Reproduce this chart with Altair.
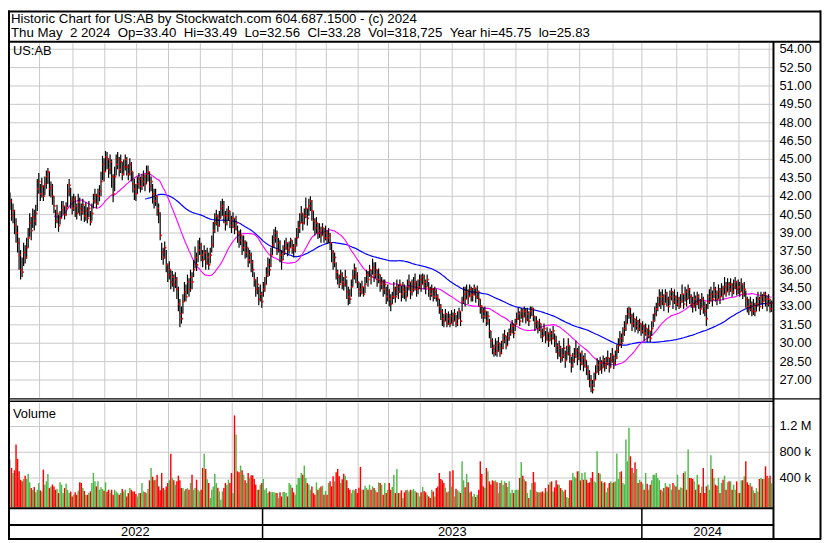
import altair as alt
import pandas as pd

# ---------------- data ----------------
hi = [
    42.3, 41.8, 41.4, 40.9, 40.2, 39.6, 38.6, 37.6, 37.0, 38.2,
    38.0, 38.6, 39.4, 40.6, 40.3, 41.0, 40.9, 41.3, 43.4, 43.9,
    43.0, 43.5, 42.9, 43.6, 44.1, 44.3, 44.0, 43.2, 43.0, 42.0,
    40.9, 41.3, 40.5, 40.8, 41.6, 41.6, 41.2, 41.5, 43.0, 43.4,
    42.7, 42.0, 42.2, 42.0, 41.4, 42.2, 41.9, 41.4, 41.8, 41.2,
    41.5, 41.1, 41.6, 40.8, 41.4, 42.2, 42.6, 42.2, 42.6, 42.9,
    44.0, 45.3, 45.1, 45.7, 45.6, 45.1, 45.4, 45.0, 43.8, 44.4,
    45.4, 45.6, 45.2, 45.4, 44.8, 45.0, 45.4, 45.2, 44.6, 45.1,
    44.8, 44.0, 43.4, 43.0, 43.6, 43.9, 43.6, 43.8, 44.1, 43.8,
    44.5, 44.5, 44.0, 43.6, 43.0, 42.6, 42.6, 42.0, 41.4, 40.7,
    38.2, 37.8, 38.3, 37.6, 36.5, 36.7, 36.0, 35.9, 35.6, 35.8,
    35.4, 34.6, 33.6, 33.0, 34.0, 35.0, 34.8, 35.6, 35.3, 36.0,
    35.8, 36.8, 37.9, 37.4, 38.4, 38.6, 38.2, 37.6, 38.0, 37.6,
    37.8, 37.4, 37.8, 38.8, 39.9, 40.6, 40.9, 40.5, 40.8, 41.6,
    41.8, 41.6, 40.8, 41.0, 41.2, 40.8, 40.4, 40.7, 40.2, 40.4,
    39.6, 39.2, 39.3, 38.8, 38.8, 38.4, 38.3, 37.8, 37.6, 37.4,
    36.8, 35.8, 35.2, 35.4, 34.6, 34.8, 34.2, 35.0, 35.4, 36.2,
    37.0, 36.9, 37.8, 38.8, 39.3, 39.5, 39.2, 38.6, 38.4, 37.6,
    38.0, 38.4, 38.6, 38.2, 38.3, 38.6, 38.4, 38.1, 38.6, 39.4,
    40.0, 40.6, 41.2, 40.6, 41.0, 41.9, 41.0, 41.8, 42.0, 41.7,
    40.8, 40.2, 40.3, 39.8, 39.8, 39.5, 39.8, 39.4, 39.6, 39.2,
    39.4, 39.0, 38.2, 37.6, 37.4, 36.6, 36.0, 35.6, 36.0, 35.8,
    35.4, 36.0, 35.2, 34.6, 34.4, 35.2, 36.0, 36.5, 36.2, 35.8,
    35.0, 34.9, 35.1, 34.6, 35.4, 36.0, 35.9, 36.4, 36.0, 36.9,
    36.6, 36.6, 36.0, 36.1, 35.6, 35.4, 35.2, 35.2, 34.6, 34.8,
    34.4, 34.0, 34.2, 35.0, 34.6, 35.2, 34.8, 35.2, 34.7, 35.0,
    34.8, 34.6, 35.2, 35.6, 35.0, 35.2, 35.4, 35.7, 35.1, 35.2,
    35.6, 35.6, 35.7, 35.6, 35.2, 35.6, 35.0, 34.6, 34.8, 34.5,
    34.6, 34.4, 34.0, 33.6, 33.2, 32.8, 32.4, 32.8, 32.4, 32.6,
    32.4, 32.7, 32.5, 32.8, 32.3, 32.6, 32.9, 32.6, 33.8, 34.6,
    34.6, 34.8, 34.4, 34.8, 34.6, 34.5, 34.8, 34.5, 34.7, 34.3,
    33.6, 33.1, 32.9, 33.0, 32.6, 32.6, 32.0, 31.0, 30.4, 29.9,
    30.4, 30.2, 30.5, 30.0, 30.2, 30.8, 31.1, 30.6, 30.9, 31.2,
    31.6, 31.9, 31.6, 32.0, 32.5, 32.9, 32.6, 32.9, 32.8, 33.0,
    32.8, 32.9, 32.6, 33.0, 33.0, 32.9, 32.2, 32.2, 31.8, 32.0,
    31.6, 31.2, 31.6, 31.0, 31.3, 30.9, 31.2, 31.0, 31.4, 30.8,
    30.6, 30.0, 30.2, 29.8, 29.6, 30.4, 29.4, 29.8, 30.4, 29.8,
    28.9, 29.2, 29.6, 30.2, 29.6, 29.8, 29.2, 29.4, 29.0, 29.2,
    28.6, 28.2, 27.8, 27.4, 27.0, 27.6, 28.2, 28.8, 28.6, 28.9,
    28.6, 29.0, 28.8, 28.9, 29.4, 28.8, 29.2, 29.6, 29.0, 29.4,
    29.9, 30.4, 31.0, 30.8, 31.3, 31.8, 32.3, 32.9, 33.0, 32.9,
    32.4, 32.5, 32.0, 32.2, 31.9, 32.0, 31.6, 31.8, 31.5, 31.6,
    31.2, 31.5, 31.0, 31.8, 32.4, 33.0, 33.3, 33.8, 34.4, 34.2,
    34.4, 34.0, 34.4, 34.2, 33.8, 34.3, 34.5, 34.2, 34.4, 33.9,
    34.2, 33.8, 34.0, 34.8, 34.0, 34.6, 34.4, 34.8, 34.5, 34.0,
    33.8, 34.2, 33.9, 34.2, 34.0, 33.6, 34.1, 33.8, 33.4, 33.2,
    34.0, 34.4, 34.6, 34.3, 35.0, 34.6, 34.3, 34.8, 34.5, 34.9,
    34.7, 35.4, 35.0, 35.3, 35.0, 35.3, 34.9, 35.2, 35.4, 35.1,
    35.2, 35.0, 35.3, 34.9, 35.0, 34.3, 33.8, 33.6, 33.8, 33.4,
    33.6, 33.3, 33.8, 34.2, 33.8, 34.2, 34.0, 34.2, 34.2, 33.9,
    34.0, 33.6, 33.49,
]
lo = [
    40.9, 40.0, 39.8, 38.9, 38.2, 37.4, 36.0, 35.2, 35.4, 36.3,
    36.5, 36.9, 37.8, 38.7, 38.4, 39.4, 39.2, 39.6, 40.8, 42.2,
    41.6, 41.9, 41.6, 42.1, 42.6, 43.0, 42.0, 41.9, 41.3, 40.6,
    39.4, 39.8, 39.1, 39.7, 40.2, 40.5, 40.1, 40.4, 41.1, 42.0,
    41.0, 40.5, 40.8, 40.3, 40.1, 40.6, 40.4, 40.0, 40.5, 39.9,
    40.0, 39.8, 40.3, 39.6, 40.0, 41.0, 41.4, 41.0, 41.3, 41.6,
    42.0, 43.3, 43.2, 44.0, 44.2, 43.5, 43.8, 42.7, 41.5, 42.4,
    43.7, 44.2, 43.6, 43.9, 43.3, 43.7, 44.1, 43.7, 43.3, 43.7,
    43.2, 42.3, 41.7, 41.6, 42.2, 42.6, 42.3, 42.5, 42.8, 42.4,
    43.0, 43.2, 42.3, 42.4, 41.4, 41.0, 41.2, 40.4, 39.8, 38.4,
    36.8, 36.4, 36.9, 35.8, 35.0, 35.2, 34.4, 34.6, 34.2, 34.5,
    33.6, 32.6, 31.3, 31.6, 32.4, 33.4, 33.4, 34.0, 33.8, 34.2,
    34.4, 35.4, 36.1, 35.9, 36.6, 37.2, 36.7, 36.2, 36.8, 36.0,
    36.4, 36.0, 36.5, 37.4, 37.8, 39.0, 39.6, 39.1, 39.5, 40.2,
    40.4, 39.8, 39.2, 39.6, 40.0, 39.4, 39.0, 39.4, 38.9, 39.2,
    38.2, 37.8, 38.0, 37.2, 37.5, 36.9, 37.0, 36.2, 36.5, 35.8,
    35.4, 34.6, 33.8, 34.0, 33.1, 33.4, 32.9, 33.8, 34.2, 34.8,
    35.4, 35.5, 36.2, 37.2, 37.8, 38.2, 37.2, 37.4, 36.6, 36.0,
    36.8, 37.2, 37.6, 37.1, 37.3, 37.8, 37.3, 37.0, 37.4, 37.9,
    38.6, 39.0, 39.8, 39.2, 39.7, 40.2, 39.6, 40.4, 40.8, 40.0,
    39.2, 38.8, 39.0, 38.5, 38.6, 38.2, 38.8, 38.2, 38.4, 38.1,
    38.2, 37.6, 36.6, 36.0, 36.2, 35.2, 34.8, 34.5, 34.9, 34.4,
    34.3, 34.6, 33.6, 33.1, 33.2, 33.8, 34.6, 35.2, 34.9, 34.5,
    33.8, 33.8, 34.0, 33.8, 34.1, 34.9, 34.6, 35.4, 34.8, 35.6,
    35.0, 35.3, 34.6, 34.9, 34.2, 34.4, 33.8, 34.0, 33.2, 33.4,
    33.0, 32.6, 33.2, 33.6, 33.3, 33.9, 33.6, 34.1, 33.4, 33.7,
    33.6, 33.4, 33.8, 34.3, 33.6, 33.9, 34.2, 34.3, 33.8, 34.0,
    34.4, 34.2, 34.8, 34.4, 34.0, 34.6, 33.8, 33.5, 33.8, 33.4,
    33.6, 33.4, 33.0, 32.4, 31.9, 31.4, 31.3, 31.8, 31.3, 31.5,
    31.3, 31.6, 31.4, 31.8, 31.3, 31.4, 32.0, 31.4, 32.6, 33.2,
    33.0, 33.6, 33.2, 33.8, 33.4, 33.4, 33.9, 33.3, 33.6, 33.0,
    32.4, 32.0, 31.7, 32.0, 31.4, 31.5, 30.4, 29.6, 29.1, 28.9,
    29.0, 28.9, 29.3, 28.9, 29.1, 29.5, 30.0, 29.5, 29.8, 30.2,
    30.6, 30.8, 30.4, 31.0, 31.5, 31.9, 31.4, 32.0, 31.7, 32.1,
    31.6, 31.8, 31.4, 32.0, 32.2, 31.8, 31.0, 31.2, 30.8, 31.0,
    30.4, 30.1, 30.6, 30.0, 30.2, 29.7, 30.2, 29.9, 30.3, 29.7,
    29.2, 28.7, 28.9, 28.4, 28.5, 28.8, 28.0, 28.6, 29.0, 28.4,
    27.6, 28.0, 28.4, 28.8, 28.2, 28.6, 27.8, 28.2, 27.7, 28.0,
    27.4, 27.0, 26.4, 26.0, 25.9, 26.4, 27.0, 27.6, 27.4, 27.8,
    27.5, 28.0, 27.7, 27.9, 28.2, 27.6, 28.0, 28.4, 27.9, 28.2,
    28.7, 29.2, 29.8, 29.6, 30.1, 30.6, 31.0, 31.6, 32.0, 31.6,
    31.0, 31.3, 30.9, 31.1, 30.8, 31.0, 30.6, 30.8, 30.2, 30.6,
    30.1, 30.4, 30.1, 30.6, 31.3, 31.8, 32.2, 32.6, 33.0, 32.8,
    33.1, 32.6, 33.3, 33.0, 32.5, 33.1, 33.5, 32.8, 33.2, 32.7,
    33.0, 32.8, 32.9, 33.3, 32.8, 33.4, 33.0, 33.6, 33.2, 32.9,
    32.5, 32.9, 32.6, 33.1, 32.8, 32.3, 32.9, 32.4, 32.2, 31.4,
    32.8, 33.2, 33.4, 33.0, 33.7, 33.4, 33.1, 33.6, 33.2, 33.8,
    33.5, 34.0, 33.8, 34.2, 33.9, 34.2, 33.8, 34.0, 34.4, 33.9,
    34.0, 33.8, 34.2, 33.6, 33.8, 32.9, 32.5, 32.3, 32.6, 32.2,
    32.3, 32.2, 32.6, 33.0, 32.6, 33.2, 32.8, 33.4, 33.0, 32.6,
    33.0, 32.5, 32.56,
]
cl = [
    41.6, 40.4, 40.8, 39.6, 39.0, 38.2, 37.2, 36.0, 35.8, 37.4,
    37.0, 37.8, 38.6, 39.8, 39.2, 40.3, 40.0, 40.6, 42.6, 43.2,
    42.2, 42.8, 42.0, 43.0, 43.6, 44.0, 42.6, 42.8, 42.0, 41.2,
    40.0, 40.6, 39.6, 40.2, 40.9, 41.2, 40.5, 41.0, 42.4, 42.9,
    41.6, 41.0, 41.8, 41.2, 40.6, 41.5, 41.0, 40.7, 41.3, 40.4,
    40.8, 40.2, 41.0, 39.9, 40.6, 41.6, 42.1, 41.4, 42.0, 42.4,
    43.2, 44.6, 44.0, 45.2, 45.0, 44.2, 44.8, 43.6, 42.2, 43.6,
    44.6, 45.0, 44.2, 44.8, 43.8, 44.4, 45.0, 44.4, 43.8, 44.6,
    44.0, 43.0, 42.6, 42.2, 43.0, 43.4, 42.8, 43.2, 43.6, 43.0,
    43.8, 44.0, 42.8, 43.2, 42.2, 41.6, 42.0, 41.0, 40.6, 38.8,
    37.4, 37.0, 37.8, 36.4, 35.6, 36.0, 35.0, 35.4, 34.8, 35.2,
    34.4, 33.2, 32.4, 32.0, 33.4, 34.2, 33.8, 35.0, 34.4, 35.4,
    35.0, 36.0, 37.0, 36.4, 37.6, 38.0, 37.2, 36.8, 37.4, 36.6,
    37.0, 36.4, 37.2, 38.0, 39.2, 39.8, 40.4, 39.6, 40.2, 41.0,
    41.2, 40.4, 39.8, 40.4, 40.8, 40.0, 39.6, 40.2, 39.4, 39.8,
    39.0, 38.4, 38.8, 37.8, 38.2, 37.4, 37.8, 36.8, 37.2, 36.6,
    36.0, 35.2, 34.4, 34.8, 33.6, 34.0, 33.4, 34.4, 34.8, 35.6,
    36.4, 36.0, 37.2, 38.0, 38.6, 39.0, 37.6, 38.2, 37.2, 36.8,
    37.4, 37.8, 38.2, 37.6, 37.8, 38.4, 37.8, 37.6, 38.0, 38.6,
    39.4, 39.8, 40.6, 39.8, 40.4, 41.0, 40.2, 41.2, 41.6, 40.8,
    40.0, 39.4, 39.8, 39.0, 39.2, 38.8, 39.4, 38.6, 39.0, 38.6,
    38.8, 38.2, 37.4, 36.6, 37.0, 35.8, 35.4, 34.8, 35.6, 35.0,
    34.8, 35.4, 34.2, 33.8, 33.6, 34.6, 35.4, 36.0, 35.6, 35.0,
    34.4, 34.2, 34.6, 34.0, 34.8, 35.6, 35.2, 36.0, 35.4, 36.2,
    35.6, 36.0, 35.2, 35.6, 34.8, 35.0, 34.4, 34.8, 33.8, 34.2,
    33.6, 33.2, 33.8, 34.4, 33.8, 34.6, 34.2, 34.8, 34.0, 34.4,
    34.2, 33.8, 34.6, 35.0, 34.2, 34.4, 34.8, 35.0, 34.4, 34.6,
    35.2, 34.8, 35.4, 35.0, 34.6, 35.2, 34.4, 34.0, 34.4, 33.8,
    34.2, 33.8, 33.6, 33.0, 32.6, 32.0, 31.8, 32.4, 31.6, 32.0,
    31.6, 32.2, 31.8, 32.4, 31.6, 32.0, 32.6, 31.8, 33.4, 34.0,
    33.6, 34.2, 33.8, 34.4, 33.9, 34.0, 34.5, 33.8, 34.2, 33.6,
    33.0, 32.6, 32.2, 32.6, 31.8, 32.2, 31.0, 30.2, 29.6, 29.2,
    29.8, 29.4, 30.0, 29.2, 29.6, 30.2, 30.6, 29.8, 30.4, 30.8,
    31.0, 31.4, 30.8, 31.6, 32.0, 32.4, 31.8, 32.6, 32.2, 32.6,
    32.0, 32.4, 31.8, 32.6, 32.8, 32.2, 31.6, 31.8, 31.2, 31.6,
    31.0, 30.6, 31.2, 30.4, 30.8, 30.2, 30.8, 30.4, 31.0, 30.2,
    29.8, 29.2, 29.6, 28.8, 29.0, 29.6, 28.6, 29.2, 29.8, 29.0,
    28.2, 28.6, 29.0, 29.4, 28.8, 29.2, 28.4, 28.8, 28.2, 28.6,
    28.0, 27.6, 27.0, 26.6, 26.2, 27.0, 27.6, 28.2, 27.8, 28.4,
    28.0, 28.6, 28.2, 28.4, 28.8, 28.0, 28.6, 29.0, 28.4, 28.8,
    29.4, 29.8, 30.4, 30.0, 30.8, 31.2, 31.6, 32.4, 32.8, 32.2,
    31.6, 32.0, 31.4, 31.8, 31.2, 31.6, 31.0, 31.4, 30.8, 31.2,
    30.6, 31.0, 30.4, 31.2, 31.8, 32.4, 32.8, 33.2, 33.8, 33.4,
    33.8, 33.2, 34.0, 33.6, 33.0, 33.8, 34.2, 33.4, 33.8, 33.2,
    33.6, 33.0, 33.4, 34.0, 33.2, 34.2, 33.6, 34.4, 33.8, 33.2,
    33.0, 33.6, 33.2, 33.8, 33.4, 32.8, 33.6, 33.0, 32.6, 32.0,
    33.4, 33.8, 34.0, 33.6, 34.4, 34.0, 33.6, 34.2, 33.8, 34.4,
    34.0, 34.6, 34.2, 34.8, 34.4, 34.8, 34.2, 34.6, 35.0, 34.4,
    34.6, 34.2, 34.8, 34.0, 34.4, 33.6, 33.0, 32.8, 33.2, 32.6,
    33.0, 32.6, 33.2, 33.6, 33.0, 33.8, 33.4, 34.0, 33.6, 33.2,
    33.6, 32.8, 33.28,
]
vol_k = [
    686, 556, 478, 520, 920, 697, 504, 374, 348, 385, 437,
    385, 468, 333, 244, 218, 260, 177, 218, 322, 208, 192,
    530, 296, 348, 463, 244, 270, 300, 270, 218, 229, 166,
    333, 296, 166, 244, 312, 218, 166, 190, 114, 140, 177,
    140, 203, 333, 322, 244, 200, 140, 140, 166, 192, 322,
    478, 348, 270, 348, 218, 255, 230, 203, 333, 187, 218,
    166, 218, 140, 218, 192, 170, 140, 166, 229, 192, 218,
    114, 166, 244, 218, 192, 192, 150, 114, 166, 166, 322,
    192, 177, 166, 229, 364, 556, 420, 364, 374, 452, 270,
    208, 478, 244, 218, 270, 322, 364, 775, 400, 364, 296,
    348, 437, 364, 244, 244, 203, 230, 244, 218, 322, 452,
    218, 244, 374, 218, 192, 218, 556, 775, 541, 380, 322,
    88, 218, 270, 463, 322, 250, 192, 62, 192, 244, 322,
    296, 374, 322, 478, 166, 1373, 1076, 504, 489, 593, 520,
    452, 364, 322, 478, 400, 442, 442, 385, 300, 218, 218,
    296, 322, 385, 218, 244, 166, 192, 182, 182, 177, 170,
    166, 88, 177, 114, 182, 182, 166, 114, 322, 296, 250,
    177, 140, 296, 400, 400, 478, 452, 593, 400, 322, 300,
    218, 270, 166, 140, 333, 218, 244, 270, 281, 140, 200,
    140, 322, 348, 270, 426, 348, 489, 541, 426, 322, 380,
    468, 437, 364, 244, 218, 166, 218, 208, 229, 166, 250,
    572, 218, 218, 281, 244, 218, 296, 218, 270, 244, 210,
    177, 333, 322, 296, 140, 322, 166, 218, 322, 218, 260,
    452, 166, 541, 166, 166, 208, 88, 177, 208, 218, 190,
    218, 208, 230, 200,
    177, 166, 114, 177, 260, 200, 177, 140, 114, 88, 218,
    192, 114, 244, 270, 478, 385, 364, 322, 250, 177, 192,
    504, 270, 520, 114, 234, 210, 192, 166, 660, 364, 255,
    463, 333, 177, 192, 114, 150, 104, 140, 218, 660, 463,
    270, 244, 556, 504, 348, 300, 364, 348, 364, 333, 166,
    322, 364, 296, 348, 322, 260, 348, 166, 218, 166, 218,
    218, 218, 400, 650, 437, 380, 348, 166, 88, 218, 322,
    494, 333, 192, 177, 177, 180, 192, 166, 244, 192, 296,
    333, 348, 192, 255, 364, 300, 296, 244, 218, 192, 218,
    104, 88, 364, 364, 478, 420, 400, 504, 504, 364, 478,
    374, 489, 374, 322, 333, 400, 494, 348, 333, 816, 478,
    468, 348, 322, 333, 177, 250, 322, 348, 322, 333, 348,
    780, 385, 494, 504, 322, 300, 998, 660, 1180, 738, 556,
    478, 645, 541, 322, 374, 340, 312, 218, 478, 312, 218,
    296, 364, 452, 452, 478, 400, 364, 218, 192, 244, 322,
    270, 255, 307, 218, 322, 290, 270, 452, 218, 255, 244,
    478, 504, 218, 842, 400, 400, 385, 348, 218, 452, 300,
    166, 270, 556, 166, 270, 296, 218, 754, 541, 400,
    296, 281, 400, 166, 322, 374, 437, 218, 333, 348,
    348, 218, 296, 218, 348, 166, 166, 364, 364, 426,
    660, 333, 296, 322, 270, 208, 166, 244, 192, 385,
    400, 385, 385, 582, 437, 400, 437, 319,
]
month_start_bar = [20, 42, 63, 84, 105, 126, 147, 167, 189, 209, 230, 250,
                   271, 292, 313, 334, 355, 376, 398, 417, 440, 460, 481, 501]
year_start_bar = [167, 417]
year_labels = ["2022", "2023", "2024"]
price_ticks = [54.0, 52.5, 51.0, 49.5, 48.0, 46.5, 45.0, 43.5, 42.0, 40.5,
               39.0, 37.5, 36.0, 34.5, 33.0, 31.5, 30.0, 28.5, 27.0]
vol_ticks = [1200, 800, 400]
vol_tick_labels = ["1.2 M", "800 k", "400 k"]
ma_short, ma_long = 30, 90
symbol = "US:AB"
header1 = "Historic Chart for US:AB by Stockwatch.com 604.687.1500 - (c) 2024"
header2_parts = ["Thu May  2 2024", "Op=33.40", "Hi=33.49", "Lo=32.56", "Cl=33.28",
                 "Vol=318,725", "Year hi=45.75", "lo=25.83"]

# ---------------- layout / style ----------------
W, H = 822, 535
FONT = "Liberation Sans"
FS = 13
FS_HEAD = 13.4
GRID = "#c8c8c8"
UP, DOWN, FLAT = "#4fb848", "#ff0000", "#a8a8a8"
X_DOM = [-1.3, 503.25]
X_RNG = [0, 773]
P_TOP, P_BOT = 33, 391
V_TOP, V_BOT = 396, 501.5

xs = alt.Scale(domain=X_DOM, range=X_RNG, nice=False, zero=False)
ps = alt.Scale(domain=[27, 54], range=[373, 39], nice=False, zero=False)
vs = alt.Scale(domain=[0, 1200], range=[498, 420], nice=False, zero=False)

n = min(len(hi), len(lo), len(cl), len(vol_k))
df = pd.DataFrame({"i": range(n), "hi": hi[:n], "lo": lo[:n], "cl": cl[:n], "vol": vol_k[:n]})
df["ma_s"] = df["cl"].rolling(ma_short).mean()
df["ma_l"] = df["cl"].rolling(ma_long).mean()
chg = df["cl"].diff()
df["dir"] = ["up" if c > 0 else ("down" if c < 0 else "flat") for c in chg.fillna(0)]

months = pd.DataFrame({"g": [m - 0.5 for m in month_start_bar]})
ysep = pd.DataFrame({"g": [m - 0.5 for m in year_start_bar]})
edges = [X_DOM[0]] + [m - 0.5 for m in year_start_bar] + [X_DOM[1]]
years = pd.DataFrame({"c": [(edges[k] + edges[k + 1]) / 2 for k in range(len(year_labels))],
                      "t": year_labels})
pgrid = pd.DataFrame({"p": price_ticks, "t": [f"{v:.2f}" for v in price_ticks]})
vgrid = pd.DataFrame({"v": vol_ticks, "t": vol_tick_labels})
one = pd.DataFrame({"k": [0]})
nb = "\u00a0"
header2 = (nb * 2).join(p.replace(" ", nb) for p in header2_parts)

X = lambda f: alt.X(f, scale=xs, axis=None)

layers = []
# grid lines
layers.append(alt.Chart(pgrid).mark_rule(color=GRID, strokeWidth=1).encode(
    y=alt.Y("p:Q", scale=ps, axis=None), x=alt.value(2), x2=alt.value(772)))
layers.append(alt.Chart(months).mark_rule(color=GRID, strokeWidth=1).encode(
    x=X("g:Q"), y=alt.value(P_TOP), y2=alt.value(P_BOT)))
layers.append(alt.Chart(vgrid).mark_rule(color=GRID, strokeWidth=1).encode(
    y=alt.Y("v:Q", scale=vs, axis=None), x=alt.value(2), x2=alt.value(772)))
layers.append(alt.Chart(months).mark_rule(color=GRID, strokeWidth=1).encode(
    x=X("g:Q"), y=alt.value(V_TOP), y2=alt.value(V_BOT)))

# volume
layers.append(alt.Chart(df).mark_rule(strokeWidth=1.45).encode(
    x=X("i:Q"), y=alt.Y("vol:Q", scale=vs, axis=None), y2=alt.value(V_BOT),
    color=alt.Color("dir:N", scale=alt.Scale(domain=["up", "down", "flat"], range=[UP, DOWN, FLAT]),
                    legend=None)))

# moving averages
layers.append(alt.Chart(df).mark_line(color="#0000ff", strokeWidth=1.2).encode(
    x=X("i:Q"), y=alt.Y("ma_l:Q", scale=ps, axis=None)))
layers.append(alt.Chart(df).mark_line(color="#ff00ff", strokeWidth=1.1).encode(
    x=X("i:Q"), y=alt.Y("ma_s:Q", scale=ps, axis=None)))

# price bars + close marks
layers.append(alt.Chart(df).mark_rule(color="#000000", strokeWidth=1.2).encode(
    x=X("i:Q"), y=alt.Y("lo:Q", scale=ps, axis=None), y2="hi:Q"))
layers.append(alt.Chart(df).mark_square(color="#ff0000", size=3, opacity=1, xOffset=0.8).encode(
    x=X("i:Q"), y=alt.Y("cl:Q", scale=ps, axis=None)))

# frame lines
def hline(y, x1, x2, w=2, c="#000000"):
    return alt.Chart(one).mark_rule(color=c, strokeWidth=w).encode(
        x=alt.value(x1), x2=alt.value(x2), y=alt.value(y), y2=alt.value(y))

def vline(x, y1, y2, w=2, c="#000000"):
    return alt.Chart(one).mark_rule(color=c, strokeWidth=w).encode(
        x=alt.value(x), x2=alt.value(x), y=alt.value(y1), y2=alt.value(y2))

layers += [
    hline(1, 0, 821), hline(533.5, 0, 821), vline(1, 0, 534), vline(820.5, 0, 534),
    hline(31.5, 0, 821), vline(773, 31, 534),
    hline(392, 0, 821, 1.3), hline(394.5, 0, 773, 1.3),
    hline(502.5, 0, 773), hline(519.5, 0, 773),
]
layers.append(alt.Chart(ysep).mark_rule(color="#000000", strokeWidth=1.5).encode(
    x=X("g:Q"), y=alt.value(503), y2=alt.value(534)))

# texts
def label(txt, x, y, size=FS):
    return alt.Chart(one).mark_text(align="left", baseline="alphabetic", font=FONT,
                                    fontSize=size, color="#000000").encode(
        x=alt.value(x), y=alt.value(y), text=alt.value(txt))

layers += [label(header1, 3, 12.5, FS_HEAD), label(header2, 3, 27, FS_HEAD),
           label(symbol, 5, 45), label("Volume", 5, 411)]
layers.append(alt.Chart(pgrid).mark_text(align="left", baseline="middle", font=FONT,
                                         fontSize=FS, color="#000000").encode(
    y=alt.Y("p:Q", scale=ps, axis=None), x=alt.value(779), text="t:N"))
layers.append(alt.Chart(vgrid).mark_text(align="left", baseline="middle", font=FONT,
                                         fontSize=FS, color="#000000").encode(
    y=alt.Y("v:Q", scale=vs, axis=None), x=alt.value(779), text="t:N"))
layers.append(alt.Chart(years).mark_text(align="center", baseline="alphabetic", font=FONT,
                                         fontSize=FS, color="#000000").encode(
    x=X("c:Q"), y=alt.value(531), text="t:N"))

chart = alt.layer(*layers).resolve_scale(y="independent", color="independent").properties(
    width=W, height=H, autosize=alt.AutoSizeParams(type="none"), padding=0,
    background="#ffffff").configure_view(strokeWidth=0)

chart.save("out.html", embed_options={"renderer": "svg", "actions": False})
